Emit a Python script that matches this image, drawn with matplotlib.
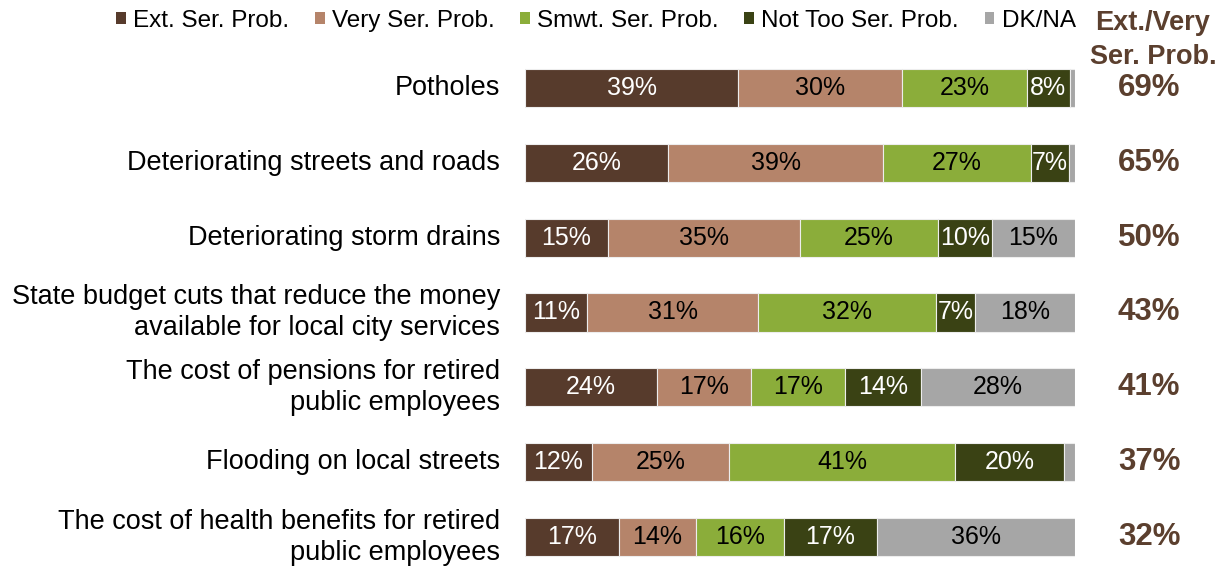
import matplotlib.pyplot as plt
from matplotlib.patches import Patch

plt.rcParams['font.family'] = ['Liberation Sans', 'DejaVu Sans']

# Data
categories = [
    'Potholes',
    'Deteriorating streets and roads',
    'Deteriorating storm drains',
    'State budget cuts that reduce the money\navailable for local city services',
    'The cost of pensions for retired\npublic employees',
    'Flooding on local streets',
    'The cost of health benefits for retired\npublic employees',
]
series_names = ['Ext. Ser. Prob.', 'Very Ser. Prob.', 'Smwt. Ser. Prob.', 'Not Too Ser. Prob.', 'DK/NA']
ext_ser = [38.8, 26.0, 15.1, 11.3, 24.0, 12.2, 17.1]
very_ser = [29.8, 39.1, 34.9, 31.1, 17.1, 24.9, 14.0]
smwt_ser = [22.6, 26.9, 25.1, 32.4, 17.1, 41.1, 16.0]
not_too = [7.8, 6.9, 9.8, 7.0, 13.8, 19.8, 16.9]
dk_na = [1.0, 1.1, 15.1, 18.2, 28.0, 2.0, 36.0]
net_ext_very = [69, 65, 50, 43, 41, 37, 32]

colors = ['#573B2C', '#B5846A', '#8BAD3A', '#3A4214', '#A6A6A6']
text_colors = ['white', 'black', 'black', 'white', 'black']
net_color = '#5B3F2E'

fig = plt.figure(figsize=(12.25, 5.67), dpi=100)
ax = fig.add_axes([525 / 1225, 0, 550 / 1225, 1 - 50.5 / 567])

series = [ext_ser, very_ser, smwt_ser, not_too, dk_na]
y = list(range(len(categories)))
left = [0.0] * len(categories)
for vals, col, tcol in zip(series, colors, text_colors):
    ax.barh(y, vals, left=left, height=0.51, color=col, edgecolor='#EDEDED', linewidth=0.8)
    for i, v in enumerate(vals):
        if v >= 5:
            ax.text(left[i] + v / 2, i, f'{int(v + 0.5)}%', ha='center', va='center',
                    fontsize=18, color=tcol)
    left = [l + v for l, v in zip(left, vals)]

ax.set_xlim(0, 100)
ax.set_ylim(6.4, -0.5)
ax.axis('off')

# Category labels
for i, cat in enumerate(categories):
    ax.text(-4.5, i, cat, ha='right', va='center', fontsize=19.5, color='black',
            linespacing=1.25)

# Net column
for i, v in enumerate(net_ext_very):
    ax.text(113.5, i, f'{v}%', ha='center', va='center', fontsize=22.5,
            fontweight='bold', color=net_color)

fig.text(1153 / 1225, 1 - 40 / 567, 'Ext./Very\nSer. Prob.', ha='center', va='center',
         fontsize=19.5, fontweight='bold', color=net_color, linespacing=1.38)

# Legend
handles = [Patch(facecolor=c, edgecolor='none') for c in colors]
fig.legend(handles, series_names, loc='center', bbox_to_anchor=(596 / 1225, 1 - 21 / 567),
           ncol=5, frameon=False, fontsize=17.5, handlelength=0.4, handleheight=0.4,
           handletextpad=0.3, columnspacing=1.05, borderaxespad=0)

fig.savefig('out.png', dpi=100)
